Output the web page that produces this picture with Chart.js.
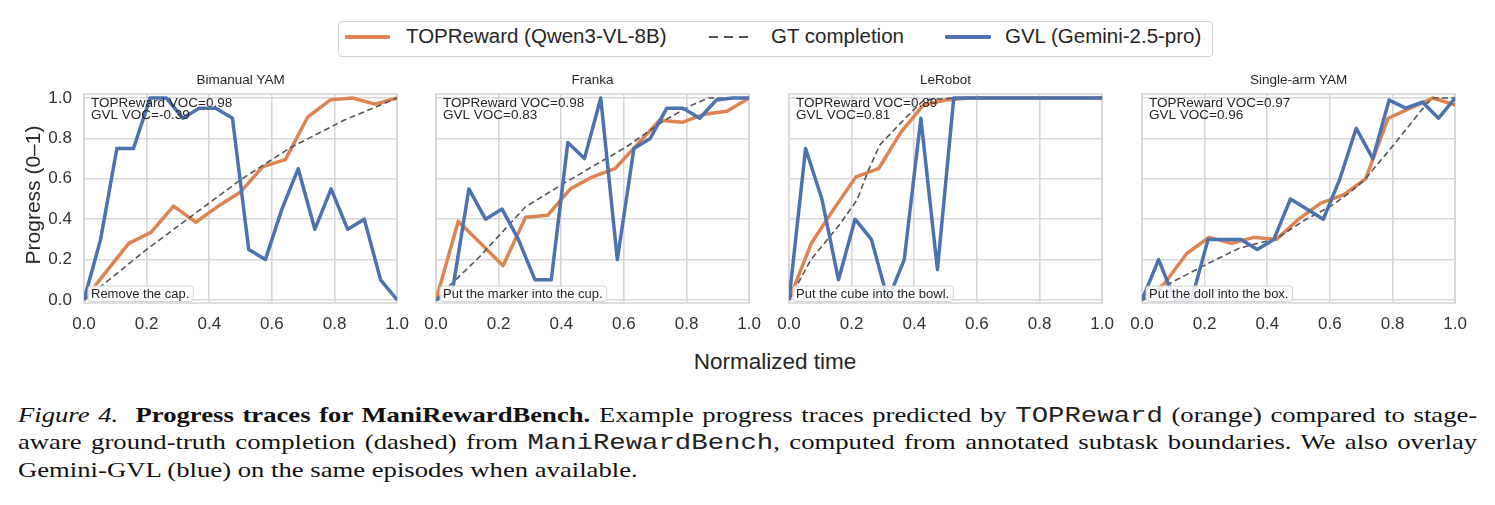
<!DOCTYPE html>
<html>
<head>
<meta charset="utf-8">
<script src="https://cdn.jsdelivr.net/npm/chart.js@4.4.1/dist/chart.umd.min.js"></script>
<style>
  html, body { margin: 0; padding: 0; background: #fff; }
  #page { position: relative; width: 1495px; height: 505px; overflow: hidden;
          font-family: "Liberation Sans", Arial, sans-serif; color: #262626; }
  .panel { position: absolute; top: 70px; }
  #legendBox { position: absolute; left: 338px; top: 21px; width: 875px; height: 36px;
               box-sizing: border-box; border: 1px solid #d2d2d2; border-radius: 4px; }
  .lg-line { position: absolute; height: 4px; border-radius: 1px; }
  .lg-dash { position: absolute; height: 2px;
             background: repeating-linear-gradient(90deg, #555 0 9px, transparent 9px 15px); }
  .lg-text { position: absolute; top: 26px; font-size: 20.5px; line-height: 20.5px; white-space: nowrap; }
  #ytitle { position: absolute; left: -67px; top: 183px; width: 200px; height: 24px; line-height: 24px;
            font-size: 21px; text-align: center; transform: rotate(-90deg); white-space: nowrap; }
  #xtitle { position: absolute; left: 575px; top: 351px; width: 400px; line-height: 22px;
            font-size: 22.5px; text-align: center; }
  .cap { position: absolute; left: 18px; width: 1149px; font-family: "Liberation Serif", "Times New Roman", serif;
         font-size: 21px; line-height: 21px; color: #111; white-space: nowrap;
         transform: scaleX(1.27); transform-origin: left top; }
  .cap.just { text-align: justify; text-align-last: justify; }
  .tt { font-family: "Liberation Mono", "DejaVu Sans Mono", monospace; font-size: 21.5px; color: #222; }
</style>
</head>
<body>
<div id="page">
  <div id="legendBox"></div>
  <div class="lg-line" style="left:345px; top:35px; width:45px; background:#dd8452;"></div>
  <div class="lg-text" style="left:406px;">TOPReward (Qwen3-VL-8B)</div>
  <div class="lg-dash" style="left:709px; top:36px; width:39px;"></div>
  <div class="lg-text" style="left:771px;">GT completion</div>
  <div class="lg-line" style="left:945px; top:35px; width:46px; background:#4c72b0;"></div>
  <div class="lg-text" style="left:1005px;">GVL (Gemini-2.5-pro)</div>

  <canvas class="panel" id="p0" width="380" height="270" style="left:40px"></canvas>
  <canvas class="panel" id="p1" width="380" height="270" style="left:392px"></canvas>
  <canvas class="panel" id="p2" width="380" height="270" style="left:745px"></canvas>
  <canvas class="panel" id="p3" width="380" height="270" style="left:1098px"></canvas>

  <div id="ytitle">Progress (0–1)</div>
  <div id="xtitle">Normalized time</div>

  <div class="cap just" style="top:405px;"><i>Figure 4.</i>&nbsp; <b>Progress traces for ManiRewardBench.</b> Example progress traces predicted by <span class="tt">TOPReward</span> (orange) compared to stage-</div>
  <div class="cap just" style="top:432px;">aware ground-truth completion (dashed) from <span class="tt">ManiRewardBench</span>, computed from annotated subtask boundaries. We also overlay</div>
  <div class="cap" style="top:460px;">Gemini-GVL (blue) on the same episodes when available.</div>
</div>

<script>
// axis ticks
const xTicks = [0, 0.2, 0.4, 0.6, 0.8, 1.0];
const yTicks = [0, 0.2, 0.4, 0.6, 0.8, 1.0];

// panel text
const panelTitles = ['Bimanual YAM', 'Franka', 'LeRobot', 'Single-arm YAM'];
const taskLabels = ['Remove the cap.', 'Put the marker into the cup.', 'Put the cube into the bowl.', 'Put the doll into the box.'];
const topRewardVOC = ['0.98', '0.98', '0.89', '0.97'];
const gvlVOC = ['-0.39', '0.83', '0.81', '0.96'];

// sample times (normalized)
const topRewardTime = [0, 0.071, 0.143, 0.214, 0.286, 0.357, 0.429, 0.5, 0.571, 0.643, 0.714, 0.786, 0.857, 0.929, 1.0];
const gvlTime = [0, 0.053, 0.105, 0.158, 0.211, 0.263, 0.316, 0.368, 0.421, 0.474, 0.526, 0.579, 0.632, 0.684, 0.737, 0.789, 0.842, 0.895, 0.947, 1.0];

// TOPReward (orange)
const topBimanual = [0, 0.14, 0.28, 0.335, 0.465, 0.385, 0.465, 0.535, 0.66, 0.695, 0.905, 0.99, 1.0, 0.97, 1.0];
const topFranka   = [0, 0.39, 0.28, 0.17, 0.41, 0.42, 0.55, 0.61, 0.65, 0.77, 0.89, 0.88, 0.92, 0.935, 1.0];
const topLeRobot  = [0, 0.28, 0.45, 0.61, 0.65, 0.83, 0.965, 0.99, 1.0, 1.0, 1.0, 1.0, 1.0, 1.0, 1.0];
const topSingle   = [0, 0.08, 0.23, 0.31, 0.28, 0.31, 0.30, 0.40, 0.48, 0.52, 0.60, 0.90, 0.95, 1.0, 0.965];

// GVL (blue)
const gvlBimanual = [0, 0.3, 0.75, 0.75, 1.0, 1.0, 0.9, 0.95, 0.95, 0.9, 0.25, 0.2, 0.45, 0.65, 0.35, 0.55, 0.35, 0.4, 0.1, 0.0];
const gvlFranka   = [0, 0.05, 0.55, 0.4, 0.45, 0.3, 0.1, 0.1, 0.78, 0.7, 1.0, 0.2, 0.75, 0.8, 0.95, 0.95, 0.9, 0.99, 1.0, 1.0];
const gvlLeRobot  = [0, 0.75, 0.5, 0.1, 0.4, 0.3, 0.0, 0.2, 0.9, 0.15, 1.0, 1.0, 1.0, 1.0, 1.0, 1.0, 1.0, 1.0, 1.0, 1.0];
const gvlSingle   = [0, 0.2, 0.0, 0.0, 0.3, 0.3, 0.3, 0.25, 0.3, 0.5, 0.45, 0.4, 0.6, 0.85, 0.7, 0.99, 0.95, 0.98, 0.9, 1.0];

// GT completion (dashed): breakpoints
const gtBimanualT = [0, 0.2, 0.33, 0.5, 0.66, 0.83, 1.0];
const gtBimanualY = [0, 0.25, 0.40, 0.595, 0.755, 0.89, 1.0];
const gtFrankaT = [0, 0.04, 0.14, 0.285, 0.4, 0.51, 0.61, 0.72, 0.81, 0.87, 1.0];
const gtFrankaY = [0, 0.066, 0.215, 0.46, 0.57, 0.67, 0.76, 0.88, 0.96, 1.0, 1.0];
const gtLeRobotT = [0, 0.07, 0.16, 0.217, 0.254, 0.29, 0.365, 0.43, 0.524, 1.0];
const gtLeRobotY = [0, 0.2, 0.37, 0.495, 0.644, 0.768, 0.89, 0.99, 1.0, 1.0];
const gtSingleT = [0, 0.09, 0.21, 0.31, 0.43, 0.52, 0.6, 0.66, 0.71, 0.79, 0.85, 0.91, 0.93, 1.0];
const gtSingleY = [0, 0.083, 0.18, 0.256, 0.305, 0.396, 0.462, 0.528, 0.594, 0.743, 0.858, 0.974, 1.0, 1.0];

const topSeries = [topBimanual, topFranka, topLeRobot, topSingle];
const gvlSeries = [gvlBimanual, gvlFranka, gvlLeRobot, gvlSingle];
const gtTimes = [gtBimanualT, gtFrankaT, gtLeRobotT, gtSingleT];
const gtValues = [gtBimanualY, gtFrankaY, gtLeRobotY, gtSingleY];

const ORANGE = '#dd8452';
const BLUE = '#4c72b0';
const GRID = '#d8d8d8';
const FONT = '"Liberation Sans", Arial, sans-serif';

Chart.defaults.font.family = FONT;

const toPoints = (xs, ys) => xs.map((x, i) => ({ x: x, y: ys[i] }));

// titles, frame, VOC text and task box
const panelText = {
    id: 'panelText',
    beforeDatasetsDraw(chart) {
        const { ctx, chartArea: a } = chart;
        ctx.save();
        ctx.strokeStyle = GRID;
        ctx.lineWidth = 1.6;
        ctx.strokeRect(a.left, a.top, a.right - a.left, a.bottom - a.top);
        ctx.restore();
    },
    afterDatasetsDraw(chart, args, opts) {
        const { ctx, chartArea: a } = chart;
        ctx.save();
        ctx.fillStyle = '#262626';
        ctx.textBaseline = 'middle';

        ctx.font = '13.5px ' + FONT;
        ctx.textAlign = 'center';
        ctx.fillText(opts.title, (a.left + a.right) / 2, a.top - 14);

        ctx.textAlign = 'left';
        ctx.fillText('TOPReward VOC=' + opts.vocTop, a.left + 7, a.top + 9);
        ctx.fillText('GVL VOC=' + opts.vocGvl, a.left + 7, a.top + 21);

        ctx.font = '13px ' + FONT;
        const w = ctx.measureText(opts.task).width;
        const bx = a.left + 4, by = a.bottom - 17, bw = w + 7, bh = 15.5;
        ctx.beginPath();
        ctx.roundRect(bx, by, bw, bh, 3);
        ctx.fillStyle = 'rgba(255,255,255,0.85)';
        ctx.fill();
        ctx.strokeStyle = '#d4d4d4';
        ctx.lineWidth = 1;
        ctx.stroke();
        ctx.fillStyle = '#262626';
        ctx.fillText(opts.task, a.left + 7, a.bottom - 9);
        ctx.restore();
    }
};

function makePanel(i) {
    const ctx = document.getElementById('p' + i).getContext('2d');
    new Chart(ctx, {
        type: 'line',
        data: {
            datasets: [
                {
                    label: 'GVL (Gemini-2.5-pro)',
                    data: toPoints(gvlTime, gvlSeries[i]),
                    borderColor: BLUE,
                    borderWidth: 3.5,
                    pointRadius: 0,
                    borderJoinStyle: 'round',
                    order: 0
                },
                {
                    label: 'GT completion',
                    data: toPoints(gtTimes[i], gtValues[i]),
                    borderColor: '#555',
                    borderWidth: 1.6,
                    borderDash: [6, 3.5],
                    pointRadius: 0,
                    order: 1
                },
                {
                    label: 'TOPReward (Qwen3-VL-8B)',
                    data: toPoints(topRewardTime, topSeries[i]),
                    borderColor: ORANGE,
                    borderWidth: 3.5,
                    pointRadius: 0,
                    borderJoinStyle: 'round',
                    order: 2
                }
            ]
        },
        options: {
            responsive: false,
            animation: false,
            devicePixelRatio: 1,
            layout: { padding: { top: 24, right: 20, left: 0, bottom: 0 } },
            plugins: {
                legend: { display: false },
                tooltip: { enabled: false },
                panelText: {
                    title: panelTitles[i],
                    task: taskLabels[i],
                    vocTop: topRewardVOC[i],
                    vocGvl: gvlVOC[i]
                }
            },
            scales: {
                x: {
                    type: 'linear',
                    min: 0,
                    max: 1,
                    afterBuildTicks: ax => { ax.ticks = xTicks.map(v => ({ value: v })); },
                    afterFit: ax => { ax.height = 37; },
                    grid: { color: GRID, lineWidth: 1.6, drawTicks: false },
                    border: { display: false },
                    ticks: {
                        padding: 11,
                        color: '#333',
                        font: { size: 17 },
                        autoSkip: false,
                        maxRotation: 0,
                        callback: v => Number(v).toFixed(1)
                    }
                },
                y: {
                    min: -0.015,
                    max: 1.02,
                    afterBuildTicks: ax => { ax.ticks = yTicks.map(v => ({ value: v })); },
                    afterFit: ax => { ax.width = 44; },
                    grid: { color: GRID, lineWidth: 1.6, drawTicks: false },
                    border: { display: false },
                    ticks: {
                        display: i === 0,
                        padding: 12,
                        color: '#333',
                        font: { size: 17 },
                        callback: v => Number(v).toFixed(1)
                    }
                }
            }
        },
        plugins: [panelText]
    });
}

[0, 1, 2, 3].forEach(makePanel);
</script>
</body>
</html>
